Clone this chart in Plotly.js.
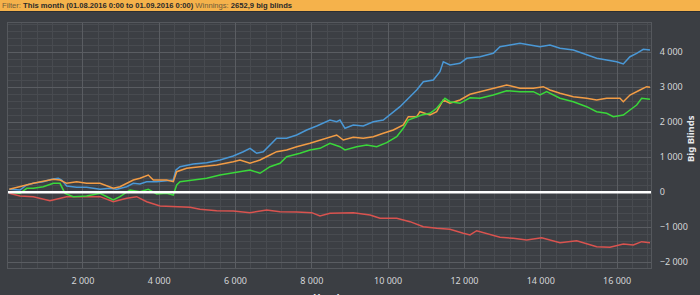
<!DOCTYPE html>
<html>
<head>
<meta charset="utf-8">
<script src="https://cdn.plot.ly/plotly-3.0.1.min.js"></script>
<style>
html,body{margin:0;padding:0;background:#3b3e43;}
#chart{width:700px;height:295px;}
</style>
</head>
<body>
<div id="chart"></div>
<script>
// ---- data (hands, big blinds) ----
const handsBlue = [71,351,527,700,962,1182,1355,1444,1575,1837,2099,2448,2710,2886,3148,3321,3496,3672,3934,4196,4369,4440,4545,4893,5245,5593,5942,6204,6380,6555,6728,7079,7341,7604,7866,8128,8476,8652,8738,8869,9087,9349,9611,9873,10049,10311,10487,10749,10922,11184,11359,11446,11621,11884,12059,12408,12756,12932,13194,13456,13718,13980,14242,14505,14854,15204,15466,15728,15990,16164,16339,16514,16688,16863];
const bbBlue    = [86,66,209,257,303,371,400,351,180,143,143,86,114,86,160,257,237,303,303,331,351,637,731,809,846,923,1037,1160,1257,1114,1160,1543,1543,1637,1780,1894,2066,2017,2066,1829,1923,1894,2017,2066,2208,2446,2637,2923,3160,3208,3446,3731,3637,3686,3829,3874,3971,4160,4208,4257,4208,4160,4208,4114,4066,3923,3829,3780,3731,3666,3874,3971,4086,4066];

const handsOrange = [71,700,1224,1400,1575,1837,2099,2448,2797,2972,3321,3496,3714,3845,4196,4369,4458,4720,5069,5507,5942,6117,6380,6642,6904,7079,7341,7604,7952,8214,8476,8652,8825,9087,9349,9611,9873,10136,10398,10529,10749,10835,11097,11273,11446,11621,11884,12146,12408,12756,13107,13456,13805,14067,14242,14505,14854,15204,15466,15728,16077,16164,16339,16601,16776,16863];
const bbOrange    = [86,257,371,351,257,303,257,257,114,160,351,400,494,351,351,303,589,686,731,780,874,923,829,923,1066,1160,1209,1303,1400,1494,1589,1637,1494,1571,1543,1589,1686,1780,1923,2160,2160,2303,2208,2303,2637,2543,2637,2800,2875,2971,3066,2971,2971,3017,2923,2829,2732,2686,2637,2686,2686,2589,2780,2923,3017,3000];

const handsGreen = [71,351,527,700,962,1224,1400,1531,1749,2099,2448,2797,2972,3234,3496,3714,3934,4196,4369,4458,4545,4893,5245,5593,5942,6117,6380,6642,6904,7166,7341,7690,7952,8214,8476,8738,8869,9176,9438,9700,9962,10225,10398,10529,10749,10879,11097,11273,11490,11621,11884,12146,12408,12756,13107,13456,13805,13980,14155,14505,14854,15204,15466,15728,15903,16164,16339,16514,16646,16863];
const bbGreen    = [17,-30,114,114,160,257,257,-30,-125,-105,-30,-220,-125,66,17,86,-49,-30,-77,209,303,351,400,494,560,589,637,543,731,829,1017,1114,1209,1257,1400,1303,1209,1303,1351,1303,1417,1589,1829,2066,2160,2208,2257,2400,2686,2589,2543,2700,2686,2780,2903,2875,2875,2780,2875,2686,2589,2446,2303,2257,2160,2208,2351,2494,2686,2657];

const handsRed = [71,351,700,1137,1575,2010,2448,2797,3148,3410,3672,4021,4369,4807,5069,5507,5942,6380,6817,7166,7604,7997,8214,8476,9087,9525,9787,10225,10573,10922,11273,11621,11970,12146,12321,12584,12932,13281,13632,14025,14242,14505,14942,15204,15466,15815,16164,16426,16646,16863];
const bbRed    = [-30,-105,-125,-240,-125,-125,-125,-268,-171,-125,-268,-391,-411,-430,-486,-525,-535,-582,-506,-554,-563,-582,-677,-601,-582,-649,-743,-743,-839,-982,-1029,-1057,-1171,-1219,-1097,-1171,-1286,-1314,-1362,-1296,-1362,-1440,-1383,-1457,-1553,-1572,-1477,-1506,-1410,-1440];

const xTicks = [2000,4000,6000,8000,10000,12000,14000,16000];
const yTicks = [-2000,-1000,0,1000,2000,3000,4000];

const headerText = '<span style="color:#6e5a3a">Filter:</span> <b>This month (01.08.2016 0:00 to 01.09.2016 0:00)</b> <span style="color:#6e5a3a">Winnings:</span> <b>2652,9 big blinds</b>';

// ---- layout geometry ----
const W = 700, H = 295, mL = 8, mR = 49, mT = 23, mB = 27;
const pw = W - mL - mR, ph = H - mT - mB;
const px = p => (p - mL) / pw;          // page x -> paper
const py = p => (H - mB - p) / ph;      // page y -> paper

const mk = (x, y, c) => ({x: x, y: y, type: 'scatter', mode: 'lines',
  line: {color: c, width: 1.5}, hoverinfo: 'skip', showlegend: false});

const traces = [
  mk(handsRed, bbRed, '#d9534f'),
  mk(handsBlue, bbBlue, '#4a98d6'),
  mk(handsOrange, bbOrange, '#f29c45'),
  mk(handsGreen, bbGreen, '#3ad83a')
];

const tickFont = {family: 'Noto Sans, sans-serif', size: 9, color: '#d4d6d8'};

const layout = {
  width: W, height: H,
  margin: {l: mL, r: mR, t: mT, b: mB, pad: 0},
  paper_bgcolor: '#3b3e43',
  plot_bgcolor: '#3c3f44',
  separators: ', ',
  showlegend: false,
  xaxis: {
    range: [37, 16890],
    tickvals: xTicks,
    tickformat: ',d',
    showgrid: true, gridcolor: '#5a5d62', gridwidth: 1,
    minor: {dtick: 400, tick0: 0, showgrid: true, gridcolor: '#484b50', gridwidth: 1},
    zeroline: false,
    showline: true, mirror: true, linecolor: '#55585d', linewidth: 1,
    ticks: 'outside', ticklen: 4, tickcolor: 'rgba(0,0,0,0)',
    tickfont: tickFont, fixedrange: true
  },
  yaxis: {
    range: [-2163, 4837],
    side: 'right',
    tickvals: yTicks,
    tickformat: ',d',
    showgrid: true, gridcolor: '#5a5d62', gridwidth: 1,
    minor: {dtick: 200, tick0: 0, showgrid: true, gridcolor: '#484b50', gridwidth: 1},
    zeroline: false,
    showline: true, mirror: true, linecolor: '#55585d', linewidth: 1,
    ticks: 'outside', ticklen: 6, tickcolor: 'rgba(0,0,0,0)',
    tickfont: tickFont, fixedrange: true
  },
  shapes: [
    {type: 'rect', xref: 'paper', yref: 'paper', x0: px(0), x1: px(W), y0: py(11), y1: py(0),
      fillcolor: '#f5b24b', line: {width: 0}, layer: 'above'},
    {type: 'rect', xref: 'paper', yref: 'paper', x0: px(0), x1: px(W), y0: py(12), y1: py(11),
      fillcolor: '#2c2e31', line: {width: 0}, layer: 'above'},
    {type: 'line', xref: 'paper', yref: 'y', x0: 0, x1: 1, y0: 0, y1: 0,
      line: {color: '#ffffff', width: 2.5}, layer: 'above'}
  ],
  annotations: [
    {xref: 'paper', yref: 'paper', x: px(0), y: py(5.5), xanchor: 'left', yanchor: 'middle',
      text: headerText, showarrow: false,
      font: {family: 'Liberation Sans, Arial, sans-serif', size: 7.6, color: '#2a2a2a'}},
    {xref: 'paper', yref: 'paper', x: px(690), y: py(139), xanchor: 'center', yanchor: 'middle',
      text: '<b>Big Blinds</b>', textangle: -90, showarrow: false,
      font: {family: 'Noto Sans, sans-serif', size: 9.5, color: '#e6e8ea'}},
    {xref: 'paper', yref: 'paper', x: px(328), y: py(289), xanchor: 'center', yanchor: 'top',
      text: '<b>Hands</b>', showarrow: false,
      font: {family: 'Noto Sans, sans-serif', size: 10, color: '#e6e8ea'}}
  ]
};

Plotly.newPlot('chart', traces, layout, {displayModeBar: false, staticPlot: true});
</script>
</body>
</html>
